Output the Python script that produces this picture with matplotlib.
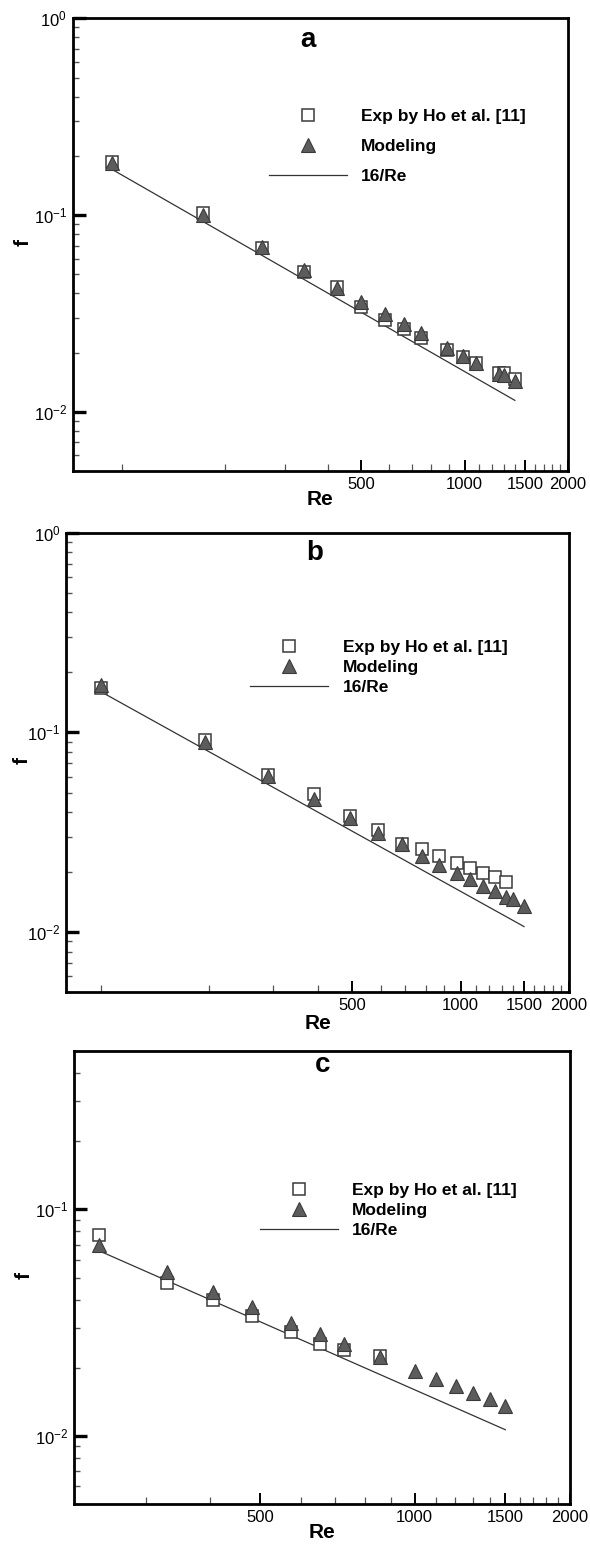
import matplotlib
matplotlib.use("Agg")
import matplotlib.pyplot as plt
from matplotlib.ticker import FixedLocator, FixedFormatter, NullFormatter

plt.rcParams['font.family'] = ['Liberation Sans', 'DejaVu Sans']
plt.rcParams['mathtext.fontset'] = 'custom'
plt.rcParams['mathtext.rm'] = 'Liberation Sans'
plt.rcParams['mathtext.it'] = 'Liberation Sans:italic'
plt.rcParams['mathtext.bf'] = 'Liberation Sans:bold'

# ---------------- data ----------------
# panel a
re_a = [94, 173, 256, 340, 424, 498, 584, 665, 745, 890, 988, 1078, 1255, 1300, 1405]
exp_a = [0.187, 0.102, 0.0678, 0.0515, 0.0433, 0.0342, 0.0292, 0.0265, 0.0236, 0.0205, 0.0190, 0.0176, 0.0157, 0.0157, 0.0147]
mod_a = [0.184, 0.100, 0.0690, 0.0525, 0.0428, 0.0362, 0.0313, 0.0278, 0.0251, 0.0212, 0.0193, 0.0178, 0.0156, 0.0154, 0.0144]
line_re_a = [94, 1400]

# panel b
re_b_exp = [100, 195, 292, 390, 492, 590, 688, 780, 868, 975, 1060, 1157, 1245, 1340]
exp_b = [0.167, 0.0916, 0.0614, 0.0489, 0.0380, 0.0326, 0.0277, 0.0260, 0.0240, 0.0221, 0.0210, 0.0198, 0.0189, 0.0179]
re_b_mod = [100, 195, 292, 390, 492, 590, 688, 780, 868, 975, 1060, 1157, 1245, 1340, 1396, 1500]
mod_b = [0.172, 0.0900, 0.0605, 0.0462, 0.0372, 0.0315, 0.0275, 0.0242, 0.0218, 0.0198, 0.0184, 0.0170, 0.0161, 0.0150, 0.0146, 0.0136]
line_re_b = [100, 1500]

# panel c
re_c_exp = [244, 330, 406, 483, 574, 656, 728, 855]
exp_c = [0.0770, 0.0473, 0.0398, 0.0337, 0.0288, 0.0256, 0.0239, 0.0226]
re_c_mod = [244, 330, 406, 483, 574, 656, 728, 855, 1000, 1099, 1204, 1300, 1398, 1500]
mod_c = [0.0698, 0.0530, 0.0434, 0.0371, 0.0314, 0.0281, 0.0255, 0.0224, 0.0194, 0.0179, 0.0166, 0.0155, 0.0145, 0.0136]
line_re_c = [244, 1500]

panel_letters = ['a', 'b', 'c']
legend_labels = ['Exp by Ho et al. [11]', 'Modeling', '16/Re']
x_major = [500, 1000, 1500, 2000]
x_major_labels = ['500', '1000', '1500', '2000']
x_minor = [100, 200, 300, 400, 600, 700, 800, 900, 1100, 1200, 1300, 1400, 1600, 1700, 1800, 1900]
y_major = [1.0, 0.1, 0.01]
y_major_labels = [r'$10^{0}$', r'$10^{-1}$', r'$10^{-2}$']
y_minor = [m * d for d in (0.001, 0.01, 0.1) for m in range(2, 10)]

# ---------------- layout ----------------
W, H = 590, 1547
fig = plt.figure(figsize=(W / 100, H / 100), dpi=100)

panels = [
    dict(rect=(72.7, 18.3, 568.0, 471.0), xlim=(72, 2000), ylim=(0.005, 1.0),
         re_e=re_a, fe=exp_a, re_m=re_a, fm=mod_a, lre=line_re_a,
         leg=(0.396, 0.799), lspace=0.85, letter=(0.4745, 0.937), rey=-0.064, fx=-0.101),
    dict(rect=(66.0, 532.7, 569.0, 992.3), xlim=(80, 2000), ylim=(0.005, 1.0),
         re_e=re_b_exp, fe=exp_b, re_m=re_b_mod, fm=mod_b, lre=line_re_b,
         leg=(0.366, 0.766), lspace=0.28, letter=(0.494, 0.9406), rey=-0.067, fx=-0.0865),
    dict(rect=(74.3, 1051.0, 569.6, 1504.3), xlim=(218, 2000), ylim=(0.005, 0.5),
         re_e=re_c_exp, fe=exp_c, re_m=re_c_mod, fm=mod_c, lre=line_re_c,
         leg=(0.374, 0.709), lspace=0.28, letter=(0.5015, 0.953), rey=-0.063, fx=-0.101),
]

edge = '#3a3a3a'
tri_face = '#5c5c5c'

for p, letter in zip(panels, panel_letters):
    x0, y0, x1, y1 = p['rect']
    ax = fig.add_axes([x0 / W, 1 - y1 / H, (x1 - x0) / W, (y1 - y0) / H])
    ax.set_xscale('log')
    ax.set_yscale('log')
    ax.set_xlim(*p['xlim'])
    ax.set_ylim(*p['ylim'])

    lre = p['lre']
    ln, = ax.plot(lre, [16.0 / r for r in lre], color='#333333', lw=0.9, zorder=2)
    sq, = ax.plot(p['re_e'], p['fe'], ls='none', marker='s', ms=8.0, mfc='white',
                  mec=edge, mew=1.1, zorder=3)
    tr, = ax.plot(p['re_m'], p['fm'], ls='none', marker='^', ms=9.5, mfc=tri_face,
                  mec=edge, mew=0.8, zorder=4)

    ax.xaxis.set_major_locator(FixedLocator(x_major))
    ax.xaxis.set_major_formatter(FixedFormatter(x_major_labels))
    ax.xaxis.set_minor_locator(FixedLocator(x_minor))
    ax.xaxis.set_minor_formatter(NullFormatter())
    ax.yaxis.set_major_locator(FixedLocator(y_major))
    ax.yaxis.set_major_formatter(FixedFormatter(y_major_labels))
    ax.yaxis.set_minor_locator(FixedLocator(y_minor))
    ax.yaxis.set_minor_formatter(NullFormatter())

    ax.tick_params(axis='both', which='both', direction='in', top=False, right=False,
                   labelsize=12, colors='black', pad=4)
    ax.tick_params(axis='y', which='major', length=9, width=2.4)
    ax.tick_params(axis='y', which='minor', length=4, width=1.0, color='#555555')
    ax.tick_params(axis='x', which='major', length=8, width=1.4)
    ax.tick_params(axis='x', which='minor', length=5, width=0.9, color='#555555')

    for s in ax.spines.values():
        s.set_linewidth(2.0)
        s.set_color('black')

    ax.set_xlabel('Re', fontsize=15, fontweight='bold')
    ax.xaxis.set_label_coords(0.5, p['rey'])
    ax.xaxis.label.set_va('center')
    ax.set_ylabel('f', fontsize=15, fontweight='bold')
    ax.yaxis.set_label_coords(p['fx'], 0.505)
    ax.yaxis.label.set_va('center')

    ax.text(p['letter'][0], p['letter'][1], letter, transform=ax.transAxes,
            ha='center', va='baseline', fontsize=20, fontweight='bold')

    ax.legend([sq, tr, ln], legend_labels, loc='upper left',
              bbox_to_anchor=p['leg'], frameon=False, borderpad=0,
              borderaxespad=0, handlelength=4.5, handletextpad=0.83,
              labelspacing=p['lspace'], prop=dict(size=12.5, weight='bold'))

fig.savefig('out.png', dpi=100)
